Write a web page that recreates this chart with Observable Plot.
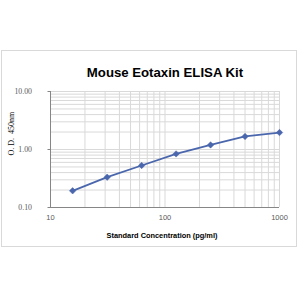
<!DOCTYPE html>
<html><head><meta charset="utf-8">
<script src="https://cdn.jsdelivr.net/npm/d3@7"></script>
<script src="https://cdn.jsdelivr.net/npm/@observablehq/plot@0.6"></script>
<style>
html,body{margin:0;padding:0;background:#fff;}
#wrap{position:relative;width:300px;height:300px;}
#box{position:absolute;left:1px;top:50px;width:296px;height:197px;border:1px solid #d9d9d9;box-sizing:border-box;}
#chart{position:absolute;left:0;top:0;}
</style></head>
<body><div id="wrap"><div id="box"></div><div id="chart"></div></div>
<script>
const title = "Mouse Eotaxin ELISA Kit";
const xLabel = "Standard Concentration (pg/ml)";
const yLabel = "O. D.  450nm";
const concentration = [15.6, 31.25, 62.5, 125, 250, 500, 1000];
const od = [0.194, 0.333, 0.53, 0.84, 1.20, 1.68, 1.96];
const xTicks = [10, 100, 1000];
const xTickLabels = ["10", "100", "1000"];
const yTicks = [0.1, 1, 10];
const yTickLabels = ["0.10", "1.00", "10.00"];
const xGrid = [10,20,30,40,50,60,70,80,90,100,200,300,400,500,600,700,800,900,1000];
const yGrid = [0.1,0.2,0.3,0.4,0.5,0.6,0.7,0.8,0.9,1,2,3,4,5,6,7,8,9,10];

const data = concentration.map((c,i)=>({x:c,y:od[i]}));
const col = "#4a66ac";
const chart = Plot.plot({
  width:300, height:300,
  marginLeft:50, marginRight:21, marginTop:91, marginBottom:93,
  style:{background:"transparent", overflow:"visible"},
  x:{type:"log", domain:[10,1000], axis:null, label:null},
  y:{type:"log", domain:[0.1,10], axis:null, label:null},
  marks:[
    Plot.ruleX(xGrid,{stroke:"#d9d9d9", strokeWidth:1}),
    Plot.ruleY(yGrid,{stroke:"#d9d9d9", strokeWidth:1}),
    Plot.ruleX([10],{stroke:"#868686"}),
    Plot.ruleY([0.1],{stroke:"#868686"}),
    Plot.axisX({ticks:xTicks, label:null, tickFormat:(d)=>xTickLabels[xTicks.indexOf(d)], tickSize:0, tickPadding:7,
      fontFamily:"Liberation Sans", fontSize:7.5, fill:"#595959"}),
    Plot.axisY({ticks:yTicks, label:null, tickFormat:(d)=>yTickLabels[yTicks.indexOf(d)], tickSize:2.5, tickPadding:16,
      fontFamily:"Liberation Serif", fontSize:7.8, fill:"#595959", stroke:"#868686"}),
    Plot.line(data,{x:"x", y:"y", stroke:col, strokeWidth:1.8}),
    Plot.dot(data,{x:"x", y:"y", symbol:"diamond2", r:2.9, fill:col, stroke:col, strokeWidth:0.5}),
    Plot.text([title],{frameAnchor:"top", dy:-24, fontFamily:"Liberation Sans", fontWeight:"bold", fontSize:13.2, fill:"#000"}),
    Plot.text([xLabel],{frameAnchor:"bottom", dx:-3, dy:30, fontFamily:"Liberation Sans", fontWeight:"bold", fontSize:7.4, fill:"#000"}),
    Plot.text([yLabel],{frameAnchor:"left", dx:-39, dy:6, rotate:-90, fontFamily:"Liberation Serif", fontSize:8, fill:"#000"})
  ]
});
document.getElementById("chart").appendChild(chart);
</script></body></html>
